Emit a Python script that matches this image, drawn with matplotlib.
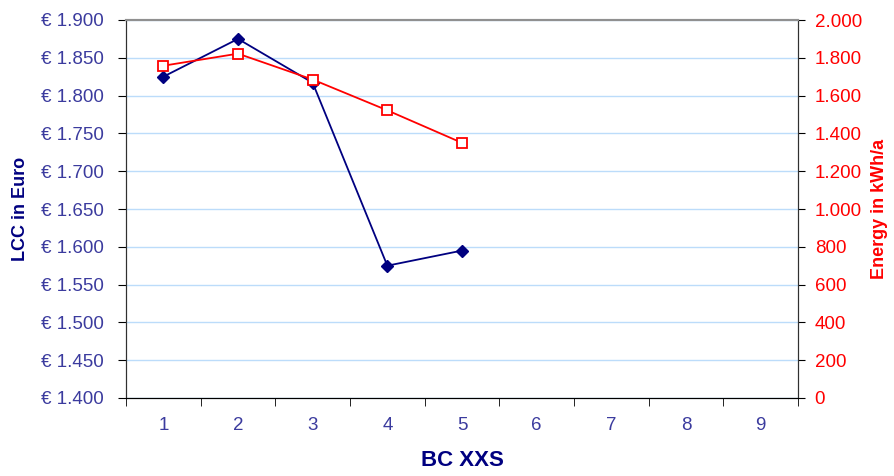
import matplotlib
matplotlib.use('Agg')
import matplotlib.pyplot as plt
from matplotlib.ticker import FuncFormatter, MultipleLocator

plt.rcParams['font.family'] = ['Liberation Sans', 'DejaVu Sans']

# data
bc = [1, 2, 3, 4, 5]
lcc = [1825, 1875, 1817, 1575, 1595]
energy = [1758, 1822, 1685, 1522, 1350]
xticks = [1, 2, 3, 4, 5, 6, 7, 8, 9]

navy = '#000080'
tickblue = '#3b3b9e'
red = '#ff0000'


def dotted(v):
    # thousands separator as a dot, like the original
    return f'{int(round(v)):,}'.replace(',', '.')


fig = plt.figure(figsize=(8.95, 4.76), dpi=100)
ax = fig.add_axes([126/895, 1 - 398/476, 672/895, 378/476])
ax2 = ax.twinx()

ax.plot(bc, lcc, color=navy, lw=1.3, marker='D', ms=6.5, mfc=navy, mec=navy, zorder=3)
ax2.plot(bc, energy, color=red, lw=1.3, marker='s', ms=7, mfc='white', mec=red, mew=1.3, zorder=3)

ax.set_xlim(0.5, 9.5)
ax.set_ylim(1400, 1900)
ax2.set_ylim(0, 2000)

ax.set_xticks(xticks)
ax.set_xticks([x + 0.5 for x in range(0, 10)], minor=True)
ax.tick_params(axis='x', which='major', length=0, pad=14, labelsize=13.5, labelcolor=tickblue)
ax.tick_params(axis='x', which='minor', length=6, direction='out', color='black')

ax.yaxis.set_major_locator(MultipleLocator(50))
ax.yaxis.set_major_formatter(FuncFormatter(lambda v, p: '€ ' + dotted(v)))
ax.tick_params(axis='y', length=6, direction='out', pad=10, labelsize=13.5, labelcolor=tickblue)

ax2.yaxis.set_major_locator(MultipleLocator(200))
ax2.yaxis.set_major_formatter(FuncFormatter(lambda v, p: dotted(v)))
ax2.tick_params(axis='y', length=5, direction='out', pad=7, labelsize=13.5, labelcolor=red)

ax.grid(axis='y', color='#bcdcfa', lw=1)
ax.set_axisbelow(True)

for a in (ax, ax2):
    a.spines['top'].set_color('#909090')
    a.spines['top'].set_linewidth(1.5)
    a.spines['left'].set_color('#303030')
    a.spines['right'].set_color('#303030')
    a.spines['bottom'].set_color('black')

ax.set_ylabel('LCC in Euro', fontsize=13, fontweight='bold', color=navy)
ax.yaxis.set_label_coords(-0.144, 0.5)
ax2.set_ylabel('Energy in kWh/a', fontsize=13, fontweight='bold', color=red)
ax2.yaxis.set_label_coords(1.108, 0.5)
ax.set_xlabel('BC XXS', fontsize=16, fontweight='bold', color=navy)
ax.xaxis.set_label_coords(0.5, -0.138)

fig.savefig('out.png', dpi=100)
